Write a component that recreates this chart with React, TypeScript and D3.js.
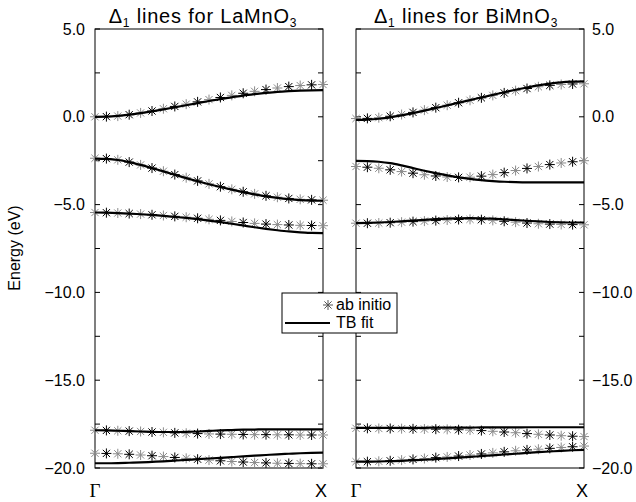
import React from "react";
import * as d3 from "d3";

// k-path from Γ (0) to X (1)
const kPoints = [0, 0.05, 0.1, 0.15, 0.2, 0.25, 0.3, 0.35, 0.4, 0.45, 0.5, 0.55, 0.6, 0.65, 0.7, 0.75, 0.8, 0.85, 0.9, 0.95, 1];

const yTickValues = [5, 0, -5, -10, -15, -20];
const yTickLabels = ["5.0", "0.0", "\u22125.0", "\u221210.0", "\u221215.0", "\u221220.0"];
const yMinorTicks = [5, 2.5, 0, -2.5, -5, -7.5, -10, -12.5, -15, -17.5, -20];
const xTickLabels = ["\u0393", "X"];

// LaMnO3 — ab initio bands
const laAb1 = [0.0, 0.01, 0.04, 0.12, 0.22, 0.33, 0.46, 0.59, 0.72, 0.85, 0.98, 1.1, 1.22, 1.34, 1.45, 1.55, 1.64, 1.72, 1.78, 1.82, 1.84];
const laAb2 = [-2.36, -2.38, -2.45, -2.58, -2.74, -2.92, -3.1, -3.29, -3.47, -3.65, -3.82, -3.98, -4.13, -4.27, -4.39, -4.5, -4.58, -4.65, -4.7, -4.73, -4.75];
const laAb3 = [-5.45, -5.46, -5.48, -5.51, -5.54, -5.58, -5.62, -5.67, -5.72, -5.78, -5.84, -5.9, -5.96, -6.02, -6.07, -6.11, -6.14, -6.16, -6.18, -6.19, -6.2];
const laAb4 = [-17.85, -17.86, -17.88, -17.9, -17.92, -17.95, -17.97, -18.0, -18.02, -18.04, -18.06, -18.07, -18.08, -18.09, -18.1, -18.1, -18.11, -18.11, -18.12, -18.12, -18.12];
const laAb5 = [-19.16, -19.17, -19.19, -19.22, -19.26, -19.3, -19.35, -19.4, -19.45, -19.5, -19.55, -19.59, -19.63, -19.66, -19.69, -19.71, -19.73, -19.74, -19.75, -19.76, -19.76];

// LaMnO3 — TB fit bands
const laTb1 = [0.0, 0.01, 0.05, 0.12, 0.21, 0.31, 0.42, 0.54, 0.66, 0.78, 0.9, 1.01, 1.11, 1.21, 1.29, 1.36, 1.42, 1.46, 1.49, 1.51, 1.52];
const laTb2 = [-2.38, -2.4, -2.46, -2.58, -2.74, -2.92, -3.11, -3.3, -3.49, -3.67, -3.84, -4.0, -4.15, -4.29, -4.42, -4.53, -4.62, -4.69, -4.74, -4.77, -4.78];
const laTb3 = [-5.45, -5.46, -5.48, -5.51, -5.55, -5.59, -5.64, -5.7, -5.76, -5.83, -5.91, -6.0, -6.09, -6.19, -6.29, -6.38, -6.46, -6.53, -6.58, -6.61, -6.63];
const laTb4 = [-17.85, -17.86, -17.88, -17.9, -17.92, -17.94, -17.95, -17.95, -17.94, -17.92, -17.89, -17.86, -17.84, -17.82, -17.81, -17.8, -17.8, -17.8, -17.8, -17.8, -17.8];
const laTb5 = [-19.73, -19.73, -19.72, -19.7, -19.68, -19.65, -19.62, -19.58, -19.54, -19.5, -19.46, -19.42, -19.38, -19.34, -19.3, -19.26, -19.22, -19.19, -19.16, -19.14, -19.13];

// BiMnO3 — ab initio bands
const biAb1 = [-0.1, -0.09, -0.05, 0.03, 0.13, 0.25, 0.38, 0.52, 0.66, 0.8, 0.94, 1.08, 1.22, 1.36, 1.49, 1.61, 1.71, 1.79, 1.84, 1.87, 1.88];
const biAb2 = [-2.83, -2.87, -2.93, -3.02, -3.12, -3.21, -3.3, -3.37, -3.43, -3.45, -3.44, -3.38, -3.29, -3.18, -3.06, -2.94, -2.83, -2.72, -2.63, -2.56, -2.5];
const biAb3 = [-6.06, -6.06, -6.05, -6.03, -6.0, -5.97, -5.94, -5.91, -5.88, -5.85, -5.84, -5.86, -5.9, -5.95, -6.0, -6.05, -6.09, -6.11, -6.13, -6.14, -6.15];
const biAb4 = [-17.74, -17.74, -17.75, -17.75, -17.76, -17.77, -17.78, -17.79, -17.8, -17.82, -17.84, -17.87, -17.91, -17.95, -17.99, -18.04, -18.08, -18.12, -18.16, -18.19, -18.21];
const biAb5 = [-19.64, -19.64, -19.62, -19.59, -19.55, -19.51, -19.46, -19.41, -19.37, -19.32, -19.26, -19.2, -19.14, -19.08, -19.02, -18.97, -18.93, -18.88, -18.83, -18.79, -18.75];

// BiMnO3 — TB fit bands
const biTb1 = [-0.18, -0.16, -0.11, -0.03, 0.08, 0.21, 0.35, 0.5, 0.65, 0.8, 0.95, 1.1, 1.25, 1.4, 1.54, 1.67, 1.79, 1.89, 1.96, 2.0, 2.02];
const biTb2 = [-2.51, -2.52, -2.56, -2.64, -2.77, -2.92, -3.07, -3.21, -3.34, -3.45, -3.54, -3.61, -3.66, -3.7, -3.72, -3.73, -3.73, -3.73, -3.73, -3.73, -3.73];
const biTb3 = [-6.05, -6.04, -6.02, -5.99, -5.95, -5.91, -5.87, -5.83, -5.8, -5.78, -5.77, -5.78, -5.8, -5.84, -5.88, -5.92, -5.96, -5.99, -6.01, -6.02, -6.02];
const biTb4 = [-17.72, -17.72, -17.72, -17.72, -17.71, -17.71, -17.71, -17.7, -17.7, -17.7, -17.7, -17.69, -17.69, -17.69, -17.69, -17.68, -17.68, -17.68, -17.68, -17.68, -17.68];
const biTb5 = [-19.64, -19.64, -19.63, -19.61, -19.59, -19.56, -19.53, -19.49, -19.45, -19.41, -19.37, -19.32, -19.28, -19.23, -19.19, -19.14, -19.1, -19.06, -19.02, -18.99, -18.97];

const legendLabels = ["ab initio", "TB fit"];

const W = 636;
const H = 502;
const TOP = 29;
const BOTTOM = 468;
const SANS = "'Liberation Sans', Arial, Helvetica, sans-serif";
const SERIF = "'Liberation Serif', 'Times New Roman', serif";

const y = d3.scaleLinear().domain([-20, 5]).range([BOTTOM, TOP]);

function starPath(cx: number, cy: number, r: number) {
  const d = r * 0.72;
  return `M${cx - r},${cy}H${cx + r}M${cx},${cy - r}V${cy + r}M${cx - d},${cy - d}L${cx + d},${cy + d}M${cx - d},${cy + d}L${cx + d},${cy - d}`;
}

interface PanelProps {
  x0: number;
  x1: number;
  ab: number[][];
  tb: number[][];
  title: string;
  formula: string;
  titleX: number;
}

function Panel({ x0, x1, ab, tb, title, formula, titleX }: PanelProps) {
  const x = d3.scaleLinear().domain([0, 1]).range([x0, x1]);
  const line = d3
    .line<number>()
    .x((_, i) => x(kPoints[i]))
    .y((v) => y(v))
    .curve(d3.curveMonotoneX);
  return (
    <g>
      <rect x={x0} y={TOP} width={x1 - x0} height={BOTTOM - TOP} fill="none" stroke="#000" strokeWidth={1} />
      {yMinorTicks.map((t) => (
        <g key={t}>
          <line x1={x0} x2={x0 + 5} y1={y(t)} y2={y(t)} stroke="#000" strokeWidth={1} />
          <line x1={x1 - 5} x2={x1} y1={y(t)} y2={y(t)} stroke="#000" strokeWidth={1} />
        </g>
      ))}
      {ab.map((band, bi) => (
        <g key={"ab" + bi}>
          {band.map((v, i) => (
            <path
              key={i}
              d={starPath(x(kPoints[i]), y(v), 5)}
              stroke={i % 2 === 0 ? "#8a8a8a" : "#000"}
              strokeWidth={1}
              fill="none"
            />
          ))}
        </g>
      ))}
      {tb.map((band, bi) => (
        <path key={"tb" + bi} d={line(band) || ""} fill="none" stroke="#000" strokeWidth={2.2} />
      ))}
      <text x={titleX} y={23} textAnchor="middle" fontFamily={SANS} fontSize={20} letterSpacing={0.8} fill="#000">
        <tspan>{"\u0394"}</tspan>
        <tspan fontSize={12} dy={4}>1</tspan>
        <tspan dy={-4}>{" " + title + formula}</tspan>
        <tspan fontSize={12} dy={4}>3</tspan>
      </text>
      <text x={x(0)} y={497} textAnchor="middle" fontFamily={SERIF} fontSize={19} fill="#000">
        {xTickLabels[0]}
      </text>
      <text x={x(1) - 2} y={497} textAnchor="middle" fontFamily={SANS} fontSize={18} fill="#000">
        {xTickLabels[1]}
      </text>
    </g>
  );
}

export default function App() {
  return (
    <svg
      width={W}
      height={H}
      viewBox={`0 0 ${W} ${H}`}
      style={{ position: "absolute", left: 0, top: 0, background: "#fff" }}
    >
      <rect x={0} y={0} width={W} height={H} fill="#fff" />
      <Panel
        x0={95}
        x1={323}
        ab={[laAb1, laAb2, laAb3, laAb4, laAb5]}
        tb={[laTb1, laTb2, laTb3, laTb4, laTb5]}
        title="lines for "
        formula="LaMnO"
        titleX={203}
      />
      <Panel
        x0={356}
        x1={584}
        ab={[biAb1, biAb2, biAb3, biAb4, biAb5]}
        tb={[biTb1, biTb2, biTb3, biTb4, biTb5]}
        title="lines for "
        formula="BiMnO"
        titleX={466}
      />
      {yTickValues.map((t, i) => (
        <g key={t}>
          <text x={85} y={y(t)} dy="0.35em" textAnchor="end" fontFamily={SANS} fontSize={16} fill="#000">
            {yTickLabels[i]}
          </text>
          <text x={592} y={y(t)} dy="0.35em" textAnchor="start" fontFamily={SANS} fontSize={16} fill="#000">
            {yTickLabels[i]}
          </text>
        </g>
      ))}
      <text
        transform={`translate(20,248) rotate(-90)`}
        textAnchor="middle"
        fontFamily={SANS}
        fontSize={16}
        fill="#000"
      >
        Energy (eV)
      </text>
      <g>
        <rect x={282} y={293} width={115} height={40} fill="#fff" stroke="#000" strokeWidth={1} />
        <path d={starPath(328, 305, 5)} stroke="#555" strokeWidth={1} fill="none" />
        <text x={336} y={310} fontFamily={SANS} fontSize={16} fill="#000">
          {legendLabels[0]}
        </text>
        <line x1={285} x2={330} y1={323} y2={323} stroke="#000" strokeWidth={1.8} />
        <text x={336} y={328} fontFamily={SANS} fontSize={16} fill="#000">
          {legendLabels[1]}
        </text>
      </g>
    </svg>
  );
}
